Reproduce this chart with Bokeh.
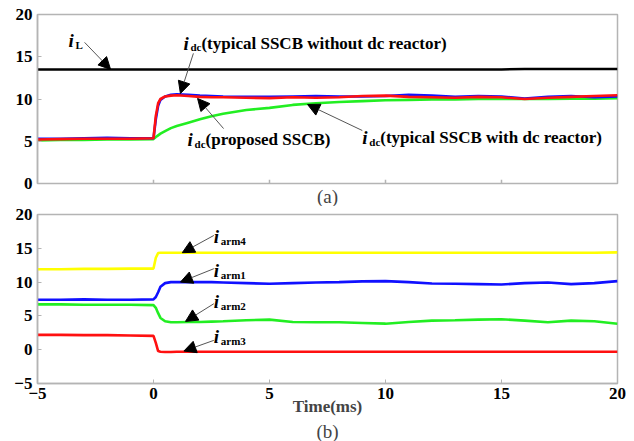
from bokeh.plotting import figure
from bokeh.models import Range1d, Arrow, NormalHead, Title, FixedTicker
from bokeh.layouts import column
from bokeh.embed import file_html
from bokeh.resources import INLINE
from bokeh.core.properties import value

# ---------------- data ----------------
t = [-5, -4, -3, -2, -1, 0, 0.1, 0.2, 0.3, 0.5, 0.75, 1, 1.5, 2, 2.5, 3,
     4, 5, 6, 7, 8, 9, 10, 11, 12, 13, 14, 15, 16, 17, 18, 19, 20]

# panel (a)
i_L = [13.5, 13.5, 13.5, 13.5, 13.5, 13.5, 13.5, 13.5, 13.5, 13.5, 13.5,
       13.5, 13.5, 13.5, 13.5, 13.5, 13.5, 13.5, 13.5, 13.5, 13.5, 13.5,
       13.5, 13.5, 13.5, 13.5, 13.5, 13.5, 13.55, 13.55, 13.55, 13.55, 13.55]
i_dc_without = [5.3, 5.3, 5.35, 5.4, 5.35, 5.35, 7.6, 9.2, 9.9, 10.3, 10.5,
                10.55, 10.5, 10.4, 10.35, 10.3, 10.25, 10.25, 10.3, 10.35,
                10.3, 10.3, 10.35, 10.5, 10.4, 10.25, 10.35, 10.3, 10.05,
                10.25, 10.35, 10.2, 10.3]
i_dc_proposed = [5.2, 5.25, 5.3, 5.3, 5.3, 5.35, 8.0, 9.5, 10.0, 10.3, 10.4,
                 10.45, 10.35, 10.25, 10.2, 10.2, 10.15, 10.1, 10.2, 10.15,
                 10.2, 10.35, 10.4, 10.25, 10.2, 10.15, 10.25, 10.2, 10.0,
                 10.15, 10.25, 10.35, 10.45]
i_dc_reactor = [5.1, 5.15, 5.15, 5.2, 5.2, 5.25, 5.5, 5.7, 5.9, 6.2, 6.55,
                6.8, 7.2, 7.6, 7.95, 8.25, 8.7, 8.95, 9.3, 9.5, 9.65, 9.75,
                9.85, 9.9, 9.95, 9.95, 10.0, 10.0, 10.0, 10.0, 10.05, 10.05, 10.1]

# panel (b)
i_arm4 = [11.9, 11.9, 11.95, 11.95, 12.0, 12.0, 13.6, 14.3, 14.35, 14.35,
          14.35, 14.35, 14.35, 14.35, 14.35, 14.35, 14.35, 14.35, 14.35,
          14.35, 14.35, 14.35, 14.35, 14.35, 14.35, 14.35, 14.35, 14.35,
          14.35, 14.35, 14.35, 14.35, 14.4]
i_arm1 = [7.4, 7.4, 7.45, 7.4, 7.4, 7.45, 7.8, 8.5, 9.3, 9.85, 10.0, 10.0,
          10.0, 10.0, 10.0, 9.95, 9.85, 9.75, 9.85, 9.95, 10.0, 10.1, 10.15,
          10.0, 9.8, 9.75, 9.7, 9.65, 9.85, 9.95, 9.7, 9.85, 10.15]
i_arm2 = [6.7, 6.7, 6.65, 6.65, 6.65, 6.6, 6.2, 5.4, 4.7, 4.2, 4.05, 4.05,
          4.1, 4.1, 4.15, 4.2, 4.35, 4.45, 4.1, 4.05, 4.05, 3.95, 3.85, 4.1,
          4.3, 4.35, 4.45, 4.5, 4.3, 4.05, 4.3, 4.2, 3.85]
i_arm3 = [2.2, 2.2, 2.15, 2.15, 2.1, 2.05, 1.0, -0.2, -0.3, -0.35, -0.35,
          -0.3, -0.3, -0.3, -0.3, -0.3, -0.3, -0.3, -0.3, -0.3, -0.3, -0.3,
          -0.3, -0.3, -0.3, -0.3, -0.3, -0.3, -0.3, -0.3, -0.3, -0.3, -0.3]

x_ticks = [-5, 0, 5, 10, 15, 20]
y_ticks_a = [0, 5, 10, 15, 20]
y_ticks_b = [-5, 0, 5, 10, 15, 20]

# annotation labels: text anchor (t, value), subscript, rest, arrow start/end
ann_a = [
    dict(x=-3.66, y=16.9, sub="L", rest="", x0=-2.97, y0=16.7, x1=-1.85, y1=13.5),
    dict(x=1.29, y=16.57, sub="dc", rest="(typical SSCB without dc reactor)",
         x0=1.72, y0=15.4, x1=1.16, y1=10.65),
    dict(x=1.47, y=5.2, sub="dc", rest="(proposed SSCB)",
         x0=3.02, y0=6.5, x1=1.9, y1=10.06),
    dict(x=9.0, y=5.44, sub="dc", rest="(typical SSCB with dc reactor)",
         x0=9.0, y0=6.27, x1=6.64, y1=9.35),
]
ann_b = [
    dict(x=2.6, y=16.7, sub="arm4", rest="", x0=2.6, y0=16.9, x1=1.24, y1=14.35),
    dict(x=2.6, y=11.7, sub="arm1", rest="", x0=2.6, y0=11.98, x1=1.16, y1=10.0),
    dict(x=2.6, y=7.1, sub="arm2", rest="", x0=2.6, y0=6.8, x1=1.38, y1=4.19),
    dict(x=2.6, y=1.9, sub="arm3", rest="", x0=2.6, y0=1.38, x1=1.31, y1=-0.2),
]

SERIF = "Liberation Serif, Times New Roman, DejaVu Serif, serif"
AX = "#b4b4b4"


def style(p, yticks):
    p.xgrid.visible = False
    p.ygrid.visible = False
    p.outline_line_color = AX
    p.outline_line_width = 1.5
    for ax in (p.xaxis[0], p.yaxis[0]):
        ax.axis_line_color = AX
        ax.axis_line_width = 1.5
        ax.major_tick_line_color = AX
        ax.major_tick_in = 4
        ax.major_tick_out = 0
        ax.minor_tick_line_color = None
        ax.major_label_text_font = SERIF
        ax.major_label_text_font_style = "bold"
        ax.major_label_text_font_size = "17px"
        ax.major_label_text_color = "black"
    p.xaxis.ticker = FixedTicker(ticks=x_ticks)
    p.yaxis.ticker = FixedTicker(ticks=yticks)
    p.yaxis.major_label_standoff = 5


def annotate(p, anns, rest_dx):
    for a in anns:
        p.add_layout(Arrow(end=NormalHead(size=12, fill_color="black",
                                          line_color="black"),
                           x_start=a["x0"], y_start=a["y0"],
                           x_end=a["x1"], y_end=a["y1"],
                           line_color="#555555", line_width=1))
    xs = [a["x"] for a in anns]
    ys = [a["y"] for a in anns]
    p.text(x=xs, y=ys, text=["i"] * len(anns), text_font=value(SERIF),
           text_font_style="bold italic", text_font_size="19px",
           text_baseline="middle", text_align="left", text_color="black")
    p.text(x=xs, y=ys, text=[a["sub"] for a in anns], x_offset=7, y_offset=4,
           text_font=value(SERIF), text_font_style="bold",
           text_font_size="11px", text_baseline="middle", text_align="left",
           text_color="black")
    rx = [a["x"] for a in anns if a["rest"]]
    ry = [a["y"] for a in anns if a["rest"]]
    rt = [a["rest"] for a in anns if a["rest"]]
    if rt:
        p.text(x=rx, y=ry, text=rt, x_offset=rest_dx, text_font=value(SERIF),
               text_font_style="bold", text_font_size="17px",
               text_baseline="middle", text_align="left", text_color="black")


LW = 2.6

# ---------------- panel (a) ----------------
p1 = figure(frame_width=580, frame_height=169, output_backend="svg",
            toolbar_location=None, x_range=Range1d(-5, 20),
            y_range=Range1d(0, 20), min_border_left=37, min_border_top=14,
            min_border_right=15, min_border_bottom=0)
style(p1, y_ticks_a)
p1.xaxis.visible = False
# inward tick marks on the bottom edge of panel (a)
p1.segment(x0=x_ticks[1:-1], y0=[0] * 4, x1=x_ticks[1:-1], y1=[0.45] * 4,
           line_color=AX, line_width=1.5)
p1.line(t, i_L, color="black", line_width=LW)
p1.line(t, i_dc_reactor, color="#22ee22", line_width=LW)
p1.line(t, i_dc_without, color="#1010ff", line_width=LW)
p1.line(t, i_dc_proposed, color="#ff1010", line_width=LW)
annotate(p1, ann_a, 18)
p1.add_layout(Title(text="(a)", align="center", text_font=SERIF,
                    text_font_size="19px", text_font_style="normal",
                    standoff=0), "below")

# ---------------- panel (b) ----------------
p2 = figure(frame_width=580, frame_height=169, output_backend="svg",
            toolbar_location=None, x_range=Range1d(-5, 20),
            y_range=Range1d(-5, 20), min_border_left=37, min_border_top=8,
            min_border_right=15, min_border_bottom=0)
style(p2, y_ticks_b)
p2.xaxis.major_label_standoff = 4
p2.xaxis.axis_label = "Time(ms)"
p2.xaxis.axis_label_text_font = SERIF
p2.xaxis.axis_label_text_font_style = "bold"
p2.xaxis.axis_label_text_font_size = "17px"
p2.xaxis.axis_label_standoff = -5
p2.line(t, i_arm4, color="#ffff00", line_width=LW)
p2.line(t, i_arm1, color="#1010ff", line_width=LW)
p2.line(t, i_arm2, color="#22ee22", line_width=LW)
p2.line(t, i_arm3, color="#ff1010", line_width=LW)
annotate(p2, ann_b, 0)
p2.add_layout(Title(text="(b)", align="center", text_font=SERIF,
                    text_font_size="19px", text_font_style="normal",
                    standoff=0), "below")

layout = column(p1, p2)
open("out.html", "w").write(file_html(layout, INLINE))
